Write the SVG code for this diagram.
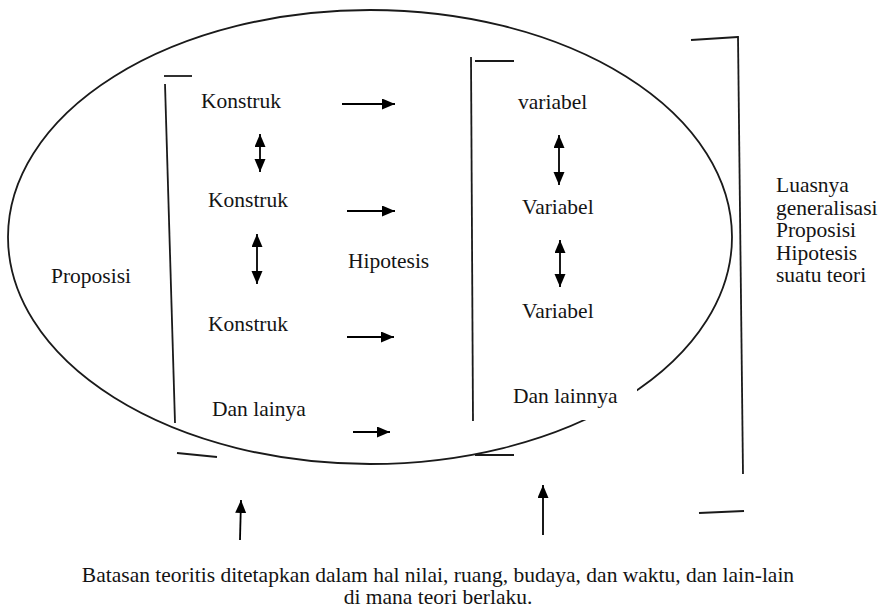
<svg xmlns="http://www.w3.org/2000/svg" width="886" height="608" viewBox="0 0 886 608">
  <style>
    .t { font-family: 'Liberation Serif', Tinos, 'Times New Roman', Times, 'DejaVu Serif', serif; font-size: 21.5px; fill: #141414; }
    .ln { stroke: #1a1a1a; stroke-width: 1.8; fill: none; stroke-linecap: butt; }
    .arw { stroke: #000; stroke-width: 1.8; fill: none; }
  </style>
  <defs>
    <marker id="head" markerUnits="userSpaceOnUse" markerWidth="14" markerHeight="12" refX="13" refY="5.5" orient="auto-start-reverse">
      <path d="M0,0 L13,5.5 L0,11 z" fill="#000"/>
    </marker>
  </defs>
  <rect width="886" height="608" fill="#fff"/>

  <!-- outer ellipse -->
  <g id="scope">
    <ellipse cx="370" cy="237" rx="362" ry="227" class="ln"/>
  </g>

  <!-- brackets -->
  <g id="bracket-construct">
    <line x1="164" y1="76" x2="192" y2="76" class="ln"/>
    <line x1="165" y1="84" x2="175" y2="423" class="ln"/>
    <line x1="177" y1="453" x2="217" y2="457" class="ln"/>
  </g>
  <g id="bracket-variable">
    <line x1="475" y1="61" x2="514" y2="61" class="ln"/>
    <line x1="471" y1="57" x2="473" y2="421" class="ln"/>
    <line x1="475" y1="455" x2="514" y2="455" class="ln"/>
  </g>
  <g id="bracket-theory">
    <line x1="691" y1="40" x2="738" y2="37" class="ln"/>
    <line x1="738" y1="36" x2="743" y2="474" class="ln"/>
    <line x1="699" y1="513" x2="744" y2="511" class="ln"/>
  </g>

  <!-- labels -->
  <g class="t" font-family="'Liberation Serif', Tinos, 'Times New Roman', serif">
    <g id="proposisi"><text x="51" y="283">Proposisi</text></g>
    <g id="konstruk-1"><text x="201" y="108">Konstruk</text></g>
    <g id="konstruk-2"><text x="208" y="207">Konstruk</text></g>
    <g id="konstruk-3"><text x="208" y="331">Konstruk</text></g>
    <g id="dan-lainya"><text x="212" y="416">Dan lainya</text></g>
    <g id="hipotesis"><text x="348" y="268">Hipotesis</text></g>
    <g id="variabel-1"><text x="518" y="109">variabel</text></g>
    <g id="variabel-2"><text x="522" y="214">Variabel</text></g>
    <g id="variabel-3"><text x="522" y="318">Variabel</text></g>
    <g id="dan-lainnya">
      <rect x="506" y="382" width="131" height="38" fill="#fff"/>
      <text x="513" y="403">Dan lainnya</text>
    </g>
    <g id="generalisasi">
      <text x="776" y="192">Luasnya</text>
      <text x="776" y="215">generalisasi</text>
      <text x="776" y="237">Proposisi</text>
      <text x="776" y="260">Hipotesis</text>
      <text x="776" y="282">suatu teori</text>
    </g>
    <g id="batasan">
      <text x="438" y="582" text-anchor="middle">Batasan teoritis ditetapkan dalam hal nilai, ruang, budaya, dan waktu, dan lain-lain</text>
      <text x="438" y="604" text-anchor="middle">di mana teori berlaku.</text>
    </g>
  </g>

  <!-- connectors -->
  <g id="connectors">
    <line x1="342" y1="104" x2="395" y2="104" class="arw" marker-end="url(#head)"/>
    <line x1="347" y1="211" x2="395" y2="211" class="arw" marker-end="url(#head)"/>
    <line x1="347" y1="337" x2="394" y2="337" class="arw" marker-end="url(#head)"/>
    <line x1="353" y1="432" x2="390" y2="432" class="arw" marker-end="url(#head)"/>

    <line x1="260" y1="134" x2="260" y2="172" class="arw" marker-start="url(#head)" marker-end="url(#head)"/>
    <line x1="257" y1="234" x2="257" y2="284" class="arw" marker-start="url(#head)" marker-end="url(#head)"/>
    <line x1="559" y1="135" x2="559" y2="185" class="arw" marker-start="url(#head)" marker-end="url(#head)"/>
    <line x1="560" y1="240" x2="560" y2="287" class="arw" marker-start="url(#head)" marker-end="url(#head)"/>

    <line x1="240" y1="540" x2="241" y2="500" class="arw" marker-end="url(#head)"/>
    <line x1="543" y1="535" x2="543" y2="485" class="arw" marker-end="url(#head)"/>
  </g>
</svg>
